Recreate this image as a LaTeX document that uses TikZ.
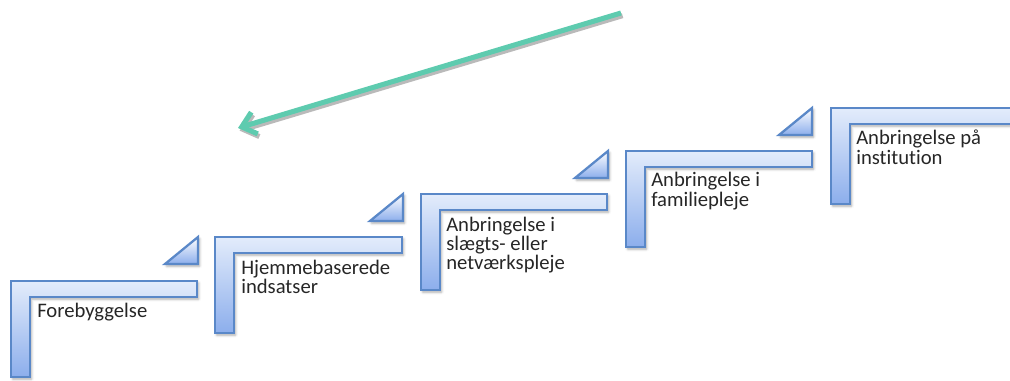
\documentclass[tikz,border=0pt]{standalone}
\usepackage{fontspec}
\setmainfont{Carlito}[Ligatures=NoCommon]
\usetikzlibrary{shadows.blur,arrows.meta}
\definecolor{edgec}{HTML}{5A88C8}
\definecolor{topc}{HTML}{E3ECFB}
\definecolor{botc}{HTML}{8CAEEC}
\definecolor{tealc}{HTML}{5ECBAF}
\definecolor{txtc}{HTML}{262626}
\tikzset{
  lshape/.style={draw=edgec, line width=1.7pt, line join=miter, top color=topc, bottom color=botc,
    blur shadow={shadow xshift=1.2pt, shadow yshift=-1.5pt, shadow blur steps=4, shadow opacity=35}},
  tri/.style={lshape, top color=white},
  steplabel/.style={font=\fontsize{15.5}{14.5}\selectfont, text=txtc, anchor=base west, inner sep=0pt},
  bigarrow/.style={draw=tealc, line width=3.8pt, -{Straight Barb[length=10pt,width=17pt]}},
  arrowshadow/.style={draw=black!45, opacity=0.6, line width=3.8pt, -{Straight Barb[length=10pt,width=17pt]}},
}
\newcommand{\lstep}[3]{%
  \path[lshape] (#1,#2) -- (#3,#2) -- (#3,{#2+16}) -- ({#1+19},{#2+16}) -- ({#1+19},{#2+96}) -- (#1,{#2+96}) -- cycle;}
\newcommand{\ltri}[2]{%
  \path[tri] ({#1-33},{#2+27}) -- (#1,#2) -- (#1,{#2+27}) -- cycle;}
\newcommand{\stacklines}[1]{\vtop{\baselineskip=14.5pt\halign{##\hfil\cr#1\crcr}}}
\begin{document}
\begin{tikzpicture}[x=0.75pt,y=-0.75pt]
\useasboundingbox (0,0) rectangle (1010,381);
% arrow
\coordinate (astart) at (621,13);
\coordinate (aend) at (238,128);
\draw[arrowshadow, transform canvas={shift={(1.2pt,-2pt)}}] (astart) -- (aend);
\draw[bigarrow] (astart) -- (aend);
% steps
\lstep{11}{281}{197}
\lstep{215}{237}{402}
\lstep{421}{194}{607}
\lstep{626}{151}{812}
\lstep{831}{108}{1040}
% triangles
\ltri{198}{237}
\ltri{403}{194}
\ltri{608}{151}
\ltri{812}{108}
% labels
\node[steplabel] (s1) at (37,317) {Forebyggelse};
\node[steplabel] (s2) at (241,274) {\stacklines{Hjemmebaserede\cr indsatser}};
\node[steplabel] (s3) at (446,231) {\stacklines{Anbringelse i\cr slægts- eller\cr netværkspleje}};
\node[steplabel] (s4) at (651,187) {\stacklines{Anbringelse i\cr familiepleje}};
\node[steplabel] (s5) at (856,145) {\stacklines{Anbringelse på\cr institution}};
\end{tikzpicture}
\end{document}
